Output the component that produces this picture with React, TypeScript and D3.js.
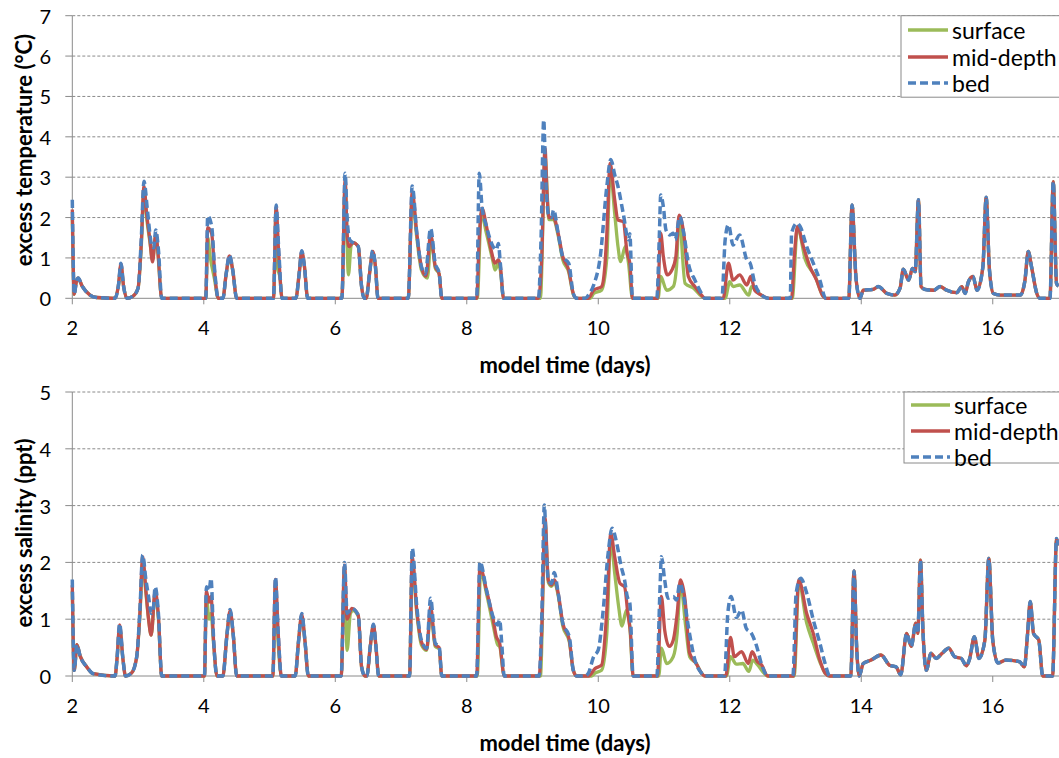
import React from 'react';
import * as d3 from 'd3';

type P = [number, number];

const xTicks = [2, 4, 6, 8, 10, 12, 14, 16];
const tempTicks = [0, 1, 2, 3, 4, 5, 6, 7];
const salTicks = [0, 1, 2, 3, 4, 5];
const seriesNames = ['surface', 'mid-depth', 'bed'];
const seriesColors = ['#9BBB59', '#C0504D', '#4F81BD'];

// ---- excess temperature (°C) ----
const tempTail: P[] = [
  [13.81, 0], [13.86, 2.31], [13.92, 0.5], [13.98, 0], [14.03, 0.2], [14.18, 0.22], [14.26, 0.29], [14.39, 0.12],
  [14.51, 0.08], [14.59, 0.25], [14.64, 0.72], [14.72, 0.45], [14.78, 0.74], [14.82, 0.66], [14.87, 2.44], [14.91, 0.29],
  [14.97, 0.22], [15.1, 0.2], [15.2, 0.29], [15.3, 0.2], [15.45, 0.14], [15.53, 0.29], [15.58, 0.12], [15.63, 0.41],
  [15.7, 0.54], [15.76, 0.2], [15.85, 0.78], [15.9, 2.5], [15.95, 0.7], [16.01, 0.12], [16.11, 0.08], [16.42, 0.08],
  [16.49, 0.45], [16.54, 1.16], [16.59, 0.78], [16.67, 0.12], [16.72, 0], [16.87, 0], [16.92, 2.89], [16.97, 0.37], [17.0, 0.3],
];

const tempBedHead: P[] = [
  [2.0, 2.44], [2.03, 0.1], [2.06, 0.4], [2.09, 0.5], [2.15, 0.3], [2.27, 0.08], [2.37, 0.02], [2.65, 0], [2.7, 0.3],
  [2.74, 0.87], [2.78, 0.3], [2.83, 0], [2.92, 0.05], [3.0, 0.25], [3.05, 1.5], [3.09, 2.9], [3.14, 2.23], [3.18, 1.6],
  [3.21, 1.28], [3.24, 1.25], [3.27, 1.69], [3.31, 1.2], [3.36, 0],
  [4.03, 0], [4.06, 2.04], [4.12, 1.78], [4.17, 0.6], [4.22, 0], [4.29, 0], [4.34, 0.6], [4.39, 1.07], [4.44, 0.7], [4.5, 0],
  [5.06, 0], [5.1, 2.31], [5.14, 1.2], [5.19, 0], [5.4, 0], [5.45, 0.6], [5.49, 1.18], [5.53, 0.8], [5.58, 0],
  [6.1, 0], [6.15, 3.1], [6.18, 2.0], [6.22, 1.45], [6.27, 1.38], [6.35, 1.28], [6.4, 0.29], [6.44, 0], [6.47, 0],
  [6.52, 0.6], [6.57, 1.18], [6.61, 0.8], [6.65, 0],
  [7.11, 0], [7.17, 2.78], [7.24, 1.61], [7.31, 0.78], [7.37, 0.6], [7.45, 1.73], [7.52, 0.87], [7.58, 0.62], [7.62, 0],
  [8.15, 0], [8.19, 3.1], [8.23, 2.3], [8.3, 1.78], [8.4, 1.28], [8.45, 1.2], [8.48, 1.36], [8.51, 0.87], [8.56, 0],
  [9.09, 0], [9.13, 1.5], [9.17, 4.42], [9.2, 3.0], [9.24, 2.1], [9.29, 2.0], [9.32, 2.19], [9.39, 1.61], [9.46, 1.03],
  [9.55, 0.87], [9.62, 0.12], [9.67, 0],
  [9.8, 0], [9.85, 0.08], [9.93, 0.33], [10.03, 1.03], [10.13, 2.77], [10.19, 3.44], [10.25, 3.06], [10.3, 2.77],
  [10.38, 2.1], [10.46, 1.45], [10.48, 1.6], [10.52, 0],
  [10.89, 0], [10.93, 1.61], [10.95, 2.56], [10.99, 2.27], [11.03, 1.69], [11.09, 1.57], [11.14, 1.61], [11.17, 1.45],
  [11.24, 2.02], [11.3, 1.61], [11.37, 0.87], [11.47, 0.45], [11.57, 0.12], [11.62, 0],
  [11.88, 0], [11.93, 1.45], [11.98, 1.82], [12.05, 1.32], [12.15, 1.57], [12.26, 0.95], [12.31, 0.87], [12.38, 0.37],
  [12.46, 0.12], [12.59, 0],
  [12.92, 0], [12.94, 1.61], [13.02, 1.86], [13.07, 1.78], [13.17, 1.28], [13.27, 0.87], [13.37, 0.45], [13.46, 0],
];

const tempMidHead: P[] = [
  [2.0, 2.2], [2.03, 0.1], [2.06, 0.4], [2.09, 0.5], [2.15, 0.3], [2.27, 0.08], [2.37, 0.02], [2.65, 0], [2.7, 0.3],
  [2.74, 0.85], [2.78, 0.3], [2.83, 0], [2.92, 0.05], [3.0, 0.25], [3.05, 1.4], [3.09, 2.77], [3.13, 2.1], [3.18, 1.45],
  [3.22, 0.9], [3.27, 1.6], [3.3, 1.2], [3.36, 0],
  [4.03, 0], [4.06, 1.75], [4.12, 1.6], [4.17, 0.55], [4.22, 0], [4.29, 0], [4.34, 0.6], [4.39, 1.05], [4.44, 0.7], [4.5, 0],
  [5.06, 0], [5.1, 2.25], [5.14, 1.1], [5.19, 0], [5.4, 0], [5.45, 0.6], [5.49, 1.16], [5.53, 0.8], [5.58, 0],
  [6.1, 0], [6.15, 2.95], [6.18, 1.6], [6.21, 1.28], [6.27, 1.38], [6.35, 1.28], [6.4, 0.29], [6.44, 0], [6.47, 0],
  [6.52, 0.6], [6.57, 1.16], [6.61, 0.8], [6.65, 0],
  [7.11, 0], [7.17, 2.64], [7.24, 1.61], [7.31, 0.78], [7.38, 0.55], [7.45, 1.57], [7.52, 0.8], [7.58, 0.6], [7.62, 0],
  [8.15, 0], [8.19, 1.5], [8.23, 2.23], [8.3, 1.78], [8.37, 1.2], [8.43, 0.87], [8.48, 0.95], [8.51, 0.8], [8.56, 0],
  [9.09, 0], [9.14, 1.0], [9.19, 3.72], [9.22, 2.6], [9.25, 2.0], [9.32, 2.0], [9.39, 1.61], [9.46, 1.03], [9.55, 0.7],
  [9.62, 0.12], [9.67, 0],
  [9.85, 0], [9.93, 0.2], [10.05, 0.29], [10.1, 0.8], [10.13, 1.6], [10.18, 3.34], [10.25, 2.44], [10.3, 1.94],
  [10.38, 1.9], [10.44, 1.11], [10.48, 0.87], [10.52, 0],
  [10.9, 0], [10.95, 1.61], [10.99, 1.03], [11.05, 0.58], [11.12, 0.7], [11.18, 1.03], [11.23, 2.06], [11.3, 1.61],
  [11.37, 0.54], [11.47, 0.29], [11.57, 0.08], [11.62, 0],
  [11.9, 0], [11.98, 0.87], [12.05, 0.45], [12.15, 0.58], [12.26, 0.33], [12.32, 0.54], [12.38, 0.2], [12.46, 0.1], [12.59, 0],
  [12.94, 0], [12.98, 1.0], [13.03, 1.78], [13.12, 1.28], [13.22, 0.78], [13.32, 0.45], [13.42, 0.05], [13.46, 0],
];

const tempSurfaceHead: P[] = [
  [2.0, 2.0], [2.03, 0.1], [2.06, 0.4], [2.09, 0.5], [2.15, 0.3], [2.27, 0.08], [2.37, 0.02], [2.65, 0], [2.7, 0.3],
  [2.74, 0.8], [2.78, 0.3], [2.83, 0], [2.92, 0.05], [3.0, 0.25], [3.05, 1.3], [3.09, 2.7], [3.13, 2.0], [3.18, 1.4],
  [3.22, 0.95], [3.27, 1.55], [3.3, 1.15], [3.36, 0],
  [4.03, 0], [4.06, 1.5], [4.1, 1.0], [4.16, 0.5], [4.22, 0], [4.29, 0], [4.34, 0.6], [4.39, 1.0], [4.44, 0.7], [4.5, 0],
  [5.06, 0], [5.1, 2.2], [5.12, 0.78], [5.16, 0.5], [5.19, 0], [5.4, 0], [5.45, 0.6], [5.49, 1.12], [5.53, 0.8], [5.58, 0],
  [6.1, 0], [6.15, 2.8], [6.2, 0.58], [6.24, 1.3], [6.27, 1.38], [6.35, 1.28], [6.4, 0.29], [6.44, 0], [6.47, 0],
  [6.52, 0.6], [6.57, 1.12], [6.61, 0.8], [6.65, 0],
  [7.11, 0], [7.17, 2.5], [7.24, 1.5], [7.31, 0.7], [7.4, 0.5], [7.46, 1.5], [7.52, 0.75], [7.58, 0.6], [7.62, 0],
  [8.16, 0], [8.22, 2.1], [8.3, 1.6], [8.4, 0.9], [8.43, 0.7], [8.48, 0.85], [8.51, 0.7], [8.56, 0],
  [9.12, 0], [9.19, 3.5], [9.25, 1.95], [9.32, 1.95], [9.39, 1.55], [9.46, 0.95], [9.55, 0.65], [9.62, 0.1], [9.67, 0],
  [9.88, 0], [9.93, 0.12], [10.05, 0.2], [10.13, 1.0], [10.18, 3.18], [10.25, 2.1], [10.3, 1.28], [10.34, 0.91],
  [10.41, 1.28], [10.46, 0.87], [10.52, 0],
  [10.91, 0], [10.95, 0.54], [11.04, 0.2], [11.14, 0.29], [11.19, 0.78], [11.23, 2.02], [11.32, 0.37], [11.45, 0.25],
  [11.57, 0.05], [11.62, 0],
  [11.93, 0], [12.0, 0.41], [12.05, 0.29], [12.15, 0.33], [12.29, 0.08], [12.33, 0.29], [12.42, 0.15], [12.59, 0],
  [12.95, 0], [13.03, 1.75], [13.15, 0.95], [13.3, 0.54], [13.42, 0.05], [13.46, 0],
];

const tempSurface: P[] = tempSurfaceHead.concat(tempTail);
const tempMid: P[] = tempMidHead.concat(tempTail);
const tempBed: P[] = tempBedHead.concat(tempTail);

// ---- excess salinity (ppt) ----
const salTail: P[] = [
  [13.84, 0], [13.89, 1.85], [13.93, 0.5], [13.97, 0], [14.03, 0.22], [14.15, 0.28], [14.3, 0.37], [14.43, 0.19],
  [14.53, 0.16], [14.6, 0.02], [14.69, 0.75], [14.76, 0.52], [14.83, 0.93], [14.86, 0.75], [14.9, 2.04], [14.94, 0.75],
  [14.99, 0.1], [15.06, 0.4], [15.14, 0.31], [15.23, 0.4], [15.33, 0.49], [15.42, 0.34], [15.52, 0.31], [15.6, 0.18],
  [15.65, 0.31], [15.72, 0.69], [15.79, 0.31], [15.88, 0.63], [15.94, 2.07], [16.0, 0.63], [16.08, 0.23], [16.2, 0.28],
  [16.41, 0.25], [16.48, 0.16], [16.53, 0.75], [16.57, 1.31], [16.62, 0.75], [16.7, 0.63], [16.76, 0], [16.91, 0],
  [16.97, 2.42], [17.0, 2.3],
];

const salBedHead: P[] = [
  [2.0, 1.7], [2.03, 0.1], [2.07, 0.55], [2.12, 0.35], [2.22, 0.16], [2.32, 0.04], [2.65, 0], [2.68, 0.3], [2.72, 0.92],
  [2.77, 0.3], [2.81, 0], [2.9, 0.05], [2.98, 0.34], [3.03, 1.2], [3.07, 2.13], [3.12, 1.69], [3.16, 1.4], [3.2, 1.1],
  [3.23, 1.15], [3.26, 1.57], [3.31, 1.1], [3.36, 0],
  [4.01, 0], [4.04, 1.57], [4.08, 1.5], [4.11, 1.72], [4.15, 0.63], [4.2, 0], [4.29, 0], [4.35, 0.7], [4.4, 1.17], [4.45, 0.7], [4.5, 0],
  [5.05, 0], [5.09, 1.74], [5.13, 0.8], [5.18, 0], [5.39, 0], [5.44, 0.6], [5.49, 1.1], [5.54, 0.6], [5.59, 0],
  [6.09, 0], [6.14, 2.0], [6.18, 1.1], [6.25, 1.19], [6.35, 1.07], [6.4, 0.16], [6.45, 0], [6.48, 0], [6.53, 0.5],
  [6.58, 0.91], [6.62, 0.5], [6.66, 0],
  [7.13, 0], [7.17, 2.25], [7.24, 1.22], [7.31, 0.63], [7.39, 0.49], [7.45, 1.37], [7.52, 0.58], [7.58, 0.52], [7.62, 0],
  [8.15, 0], [8.2, 2.01], [8.3, 1.51], [8.4, 1.04], [8.47, 0.9], [8.5, 0.99], [8.53, 0.6], [8.57, 0],
  [9.1, 0], [9.14, 1.0], [9.18, 3.01], [9.21, 2.2], [9.24, 1.69], [9.29, 1.63], [9.33, 1.82], [9.39, 1.46], [9.46, 0.93],
  [9.56, 0.69], [9.62, 0.1], [9.67, 0],
  [9.8, 0], [9.85, 0.05], [9.93, 0.34], [10.0, 0.46], [10.07, 1.1], [10.15, 2.16], [10.21, 2.6], [10.28, 2.34],
  [10.35, 1.92], [10.4, 1.69], [10.44, 1.4], [10.48, 1.28], [10.53, 0],
  [10.89, 0], [10.94, 1.57], [10.96, 2.1], [11.01, 1.69], [11.06, 1.37], [11.14, 1.4], [11.19, 1.34], [11.24, 1.63],
  [11.3, 1.4], [11.37, 0.87], [11.47, 0.28], [11.57, 0.05], [11.62, 0],
  [11.92, 0], [11.97, 1.1], [12.02, 1.4], [12.1, 1.03], [12.18, 1.16], [12.25, 0.84], [12.33, 0.75], [12.41, 0.52],
  [12.48, 0.22], [12.58, 0],
  [12.96, 0], [13.01, 1.46], [13.08, 1.72], [13.17, 1.46], [13.27, 0.99], [13.37, 0.58], [13.45, 0.22], [13.52, 0],
];

const salMidHead: P[] = [
  [2.0, 1.6], [2.03, 0.1], [2.07, 0.55], [2.12, 0.35], [2.22, 0.16], [2.32, 0.04], [2.65, 0], [2.68, 0.3], [2.72, 0.9],
  [2.77, 0.3], [2.81, 0], [2.9, 0.05], [2.98, 0.34], [3.03, 1.15], [3.07, 2.1], [3.12, 1.5], [3.16, 1.0], [3.2, 0.72],
  [3.26, 1.5], [3.31, 1.05], [3.36, 0],
  [4.01, 0], [4.04, 1.5], [4.08, 1.3], [4.11, 1.4], [4.15, 0.6], [4.2, 0], [4.29, 0], [4.35, 0.7], [4.4, 1.15], [4.45, 0.7], [4.5, 0],
  [5.05, 0], [5.09, 1.7], [5.13, 0.8], [5.18, 0], [5.39, 0], [5.44, 0.6], [5.49, 1.08], [5.54, 0.6], [5.59, 0],
  [6.09, 0], [6.14, 1.95], [6.18, 1.0], [6.25, 1.19], [6.35, 1.07], [6.4, 0.16], [6.45, 0], [6.48, 0], [6.53, 0.5],
  [6.58, 0.9], [6.62, 0.5], [6.66, 0],
  [7.13, 0], [7.17, 2.1], [7.24, 1.15], [7.31, 0.6], [7.39, 0.47], [7.45, 1.22], [7.52, 0.55], [7.58, 0.5], [7.62, 0],
  [8.15, 0], [8.2, 1.92], [8.3, 1.51], [8.4, 1.0], [8.45, 0.69], [8.5, 0.58], [8.57, 0],
  [9.1, 0], [9.14, 0.8], [9.19, 2.78], [9.24, 1.69], [9.29, 1.6], [9.33, 1.69], [9.39, 1.46], [9.46, 0.93], [9.56, 0.63],
  [9.62, 0.1], [9.67, 0],
  [9.85, 0], [9.95, 0.13], [10.05, 0.19], [10.13, 1.16], [10.19, 2.51], [10.25, 2.1], [10.33, 1.63], [10.4, 1.57],
  [10.45, 1.1], [10.49, 0.75], [10.53, 0],
  [10.9, 0], [10.96, 1.4], [11.01, 0.81], [11.08, 0.52], [11.14, 0.63], [11.2, 1.1], [11.25, 1.69], [11.32, 1.34],
  [11.39, 0.4], [11.49, 0.22], [11.57, 0.05], [11.62, 0],
  [11.94, 0], [12.01, 0.68], [12.07, 0.34], [12.18, 0.43], [12.28, 0.22], [12.34, 0.43], [12.42, 0.25], [12.48, 0.2], [12.58, 0],
  [12.97, 0], [13.05, 1.69], [13.17, 1.1], [13.27, 0.75], [13.37, 0.28], [13.45, 0.05], [13.52, 0],
];

const salSurfaceHead: P[] = [
  [2.0, 1.5], [2.03, 0.1], [2.07, 0.55], [2.12, 0.35], [2.22, 0.16], [2.32, 0.04], [2.65, 0], [2.68, 0.3], [2.72, 0.85],
  [2.77, 0.3], [2.81, 0], [2.9, 0.05], [2.98, 0.34], [3.03, 1.1], [3.07, 2.0], [3.12, 1.45], [3.16, 1.0], [3.2, 0.72],
  [3.26, 1.45], [3.31, 1.0], [3.36, 0],
  [4.01, 0], [4.04, 1.4], [4.08, 1.0], [4.11, 1.1], [4.15, 0.55], [4.2, 0], [4.29, 0], [4.35, 0.7], [4.4, 1.12], [4.45, 0.7], [4.5, 0],
  [5.05, 0], [5.09, 1.6], [5.13, 0.6], [5.18, 0], [5.39, 0], [5.44, 0.6], [5.49, 1.05], [5.54, 0.6], [5.59, 0],
  [6.09, 0], [6.14, 1.9], [6.18, 0.45], [6.23, 1.1], [6.27, 1.15], [6.35, 1.05], [6.4, 0.16], [6.45, 0], [6.48, 0],
  [6.53, 0.5], [6.58, 0.88], [6.62, 0.5], [6.66, 0],
  [7.13, 0], [7.17, 2.0], [7.24, 1.1], [7.31, 0.55], [7.39, 0.45], [7.45, 1.15], [7.52, 0.52], [7.58, 0.48], [7.62, 0],
  [8.16, 0], [8.21, 1.85], [8.3, 1.45], [8.4, 0.9], [8.47, 0.55], [8.5, 0.52], [8.57, 0],
  [9.12, 0], [9.19, 2.7], [9.24, 1.65], [9.29, 1.58], [9.33, 1.65], [9.39, 1.42], [9.46, 0.88], [9.56, 0.6],
  [9.62, 0.1], [9.67, 0],
  [9.9, 0], [9.95, 0.05], [10.05, 0.1], [10.13, 0.75], [10.19, 2.39], [10.25, 1.81], [10.31, 1.22], [10.36, 0.88],
  [10.43, 1.16], [10.48, 0.87], [10.53, 0],
  [10.92, 0], [10.96, 0.49], [11.04, 0.22], [11.14, 0.34], [11.2, 0.75], [11.25, 1.63], [11.33, 0.87], [11.39, 0.34],
  [11.49, 0.22], [11.57, 0.05], [11.62, 0],
  [11.95, 0], [12.01, 0.34], [12.1, 0.21], [12.2, 0.22], [12.29, 0.08], [12.35, 0.28], [12.42, 0.2], [12.58, 0],
  [12.98, 0], [13.05, 1.65], [13.17, 0.93], [13.27, 0.58], [13.37, 0.25], [13.45, 0.05], [13.52, 0],
];

const salSurface: P[] = salSurfaceHead.concat(salTail);
const salMid: P[] = salMidHead.concat(salTail);
const salBed: P[] = salBedHead.concat(salTail);

const FONT = 'Lato, "Open Sans", sans-serif';
const GRID = '#8a8a8a';

interface PanelProps {
  top: number;
  bottom: number;
  yMax: number;
  yTicks: number[];
  yTitle: string;
  yTitleCenter: number;
  series: P[][];
  legend: { x: number; y: number; h: number; rows: number[]; sx0: number; sx1: number; tx: number };
}

function Panel({ top, bottom, yMax, yTicks, yTitle, yTitleCenter, series, legend }: PanelProps) {
  const left = 72.3;
  const right = 1058.5;
  const x = d3.scaleLinear().domain([2, 17]).range([left, right]);
  const y = d3.scaleLinear().domain([0, yMax]).range([bottom, top]);
  const line = d3
    .line<P>()
    .x((d) => x(d[0]))
    .y((d) => y(d[1]))
    .curve(d3.curveMonotoneX);

  return (
    <g>
      {yTicks.map((t) => (
        <g key={'g' + t}>
          {t > 0 && (
            <line x1={left} x2={1059} y1={y(t)} y2={y(t)} stroke={GRID} strokeWidth={1} strokeDasharray="3,2" />
          )}
          <line x1={left - 7} x2={left} y1={y(t)} y2={y(t)} stroke={GRID} strokeWidth={1} />
          <text x={51} y={y(t)} textAnchor="end" dominantBaseline="central" fontSize={20} fontFamily={FONT} fill="#000">
            {t}
          </text>
        </g>
      ))}
      <line x1={left} x2={left} y1={top} y2={bottom} stroke={GRID} strokeWidth={1} />
      <line x1={left} x2={1059} y1={bottom} y2={bottom} stroke={GRID} strokeWidth={1} />
      {xTicks.map((t) => (
        <g key={'x' + t}>
          <line x1={x(t)} x2={x(t)} y1={bottom} y2={bottom + 6} stroke={GRID} strokeWidth={1} />
          <text x={x(t)} y={bottom + 29} textAnchor="middle" dominantBaseline="central" fontSize={20} fontFamily={FONT} fill="#000">
            {t}
          </text>
        </g>
      ))}
      <text
        x={565}
        y={bottom + 66}
        textAnchor="middle"
        dominantBaseline="central"
        fontSize={22}
        fontWeight="bold"
        fontFamily={FONT}
        fill="#000"
      >
        model time (days)
      </text>
      <text
        transform={`translate(23,${yTitleCenter}) rotate(-90)`}
        textAnchor="middle"
        dominantBaseline="central"
        fontSize={22}
        fontWeight="bold"
        fontFamily={FONT}
        fill="#000"
      >
        {yTitle}
      </text>
      {series.map((s, i) => (
        <path
          key={'s' + i}
          d={line(s) || ''}
          fill="none"
          stroke={seriesColors[i]}
          strokeWidth={i === 2 ? 3.5 : 3.3}
          strokeDasharray={i === 2 ? '8,4' : undefined}
          strokeLinejoin="round"
        />
      ))}
      <rect x={legend.x} y={legend.y} width={1070 - legend.x} height={legend.h} fill="#fff" stroke={GRID} strokeWidth={1} />
      {seriesNames.map((n, i) => (
        <g key={'l' + i}>
          <line
            x1={legend.sx0}
            x2={legend.sx1}
            y1={legend.rows[i]}
            y2={legend.rows[i]}
            stroke={seriesColors[i]}
            strokeWidth={3.3}
            strokeDasharray={i === 2 ? '8,4' : undefined}
          />
          <text x={legend.tx} y={legend.rows[i]} dominantBaseline="central" fontSize={23} fontFamily={FONT} fill="#000">
            {n}
          </text>
        </g>
      ))}
    </g>
  );
}

export default function App() {
  return (
    <svg
      width={1059}
      height={758}
      style={{ position: 'absolute', left: 0, top: 0, background: '#fff' }}
      xmlns="http://www.w3.org/2000/svg"
    >
      <rect x={0} y={0} width={1059} height={758} fill="#fff" />
      <Panel
        top={15.7}
        bottom={298.3}
        yMax={7}
        yTicks={tempTicks}
        yTitle="excess temperature (°C)"
        yTitleCenter={150}
        series={[tempSurface, tempMid, tempBed]}
        legend={{ x: 901, y: 15.7, h: 81.5, rows: [30, 57, 83], sx0: 908, sx1: 948, tx: 952 }}
      />
      <Panel
        top={392}
        bottom={676}
        yMax={5}
        yTicks={salTicks}
        yTitle="excess salinity (ppt)"
        yTitleCenter={533}
        series={[salSurface, salMid, salBed]}
        legend={{ x: 904, y: 392, h: 71, rows: [405, 431, 457], sx0: 911, sx1: 950, tx: 954 }}
      />
    </svg>
  );
}
